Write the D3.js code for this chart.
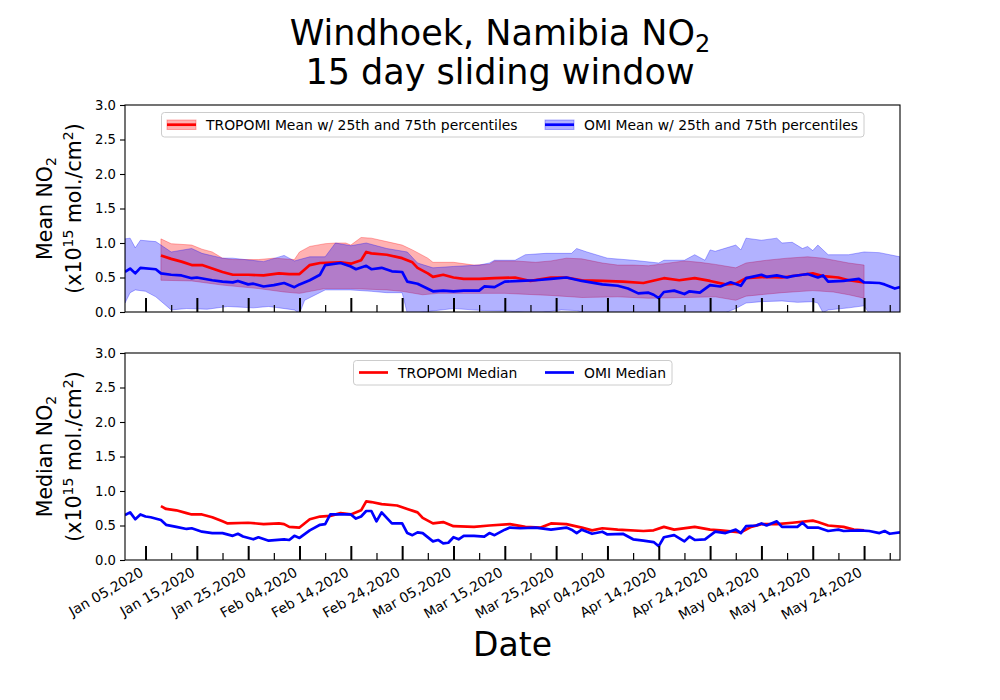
<!DOCTYPE html>
<html><head><meta charset="utf-8">
<script src="https://cdn.jsdelivr.net/npm/d3@7"></script>
<style>body{margin:0;background:#fff} svg text{font-family:"DejaVu Sans",sans-serif;fill:#000}</style>
</head><body><svg id="chart" width="1000" height="700"></svg>
<script>
// ---------- data (day offsets from 2020-01-01, values in 1e15 mol/cm2) ----------
const tropMeanDays = [7,9,11,13,15,17,19,21,24,27,30,32,34,36,38,42,44,46,47,48,51,54,56,57,59,60,62,64,66,69,72,76,79,83,86,89,93,97,101,105,108,111,114,117,119,121,125,128,132,134,136,139,141,144];
const tropMeanVals = [0.82,0.77,0.73,0.68,0.68,0.63,0.58,0.54,0.54,0.53,0.56,0.55,0.55,0.68,0.71,0.72,0.70,0.75,0.87,0.85,0.83,0.78,0.72,0.64,0.56,0.51,0.54,0.50,0.48,0.48,0.49,0.50,0.45,0.50,0.50,0.46,0.45,0.44,0.42,0.49,0.46,0.49,0.45,0.40,0.41,0.49,0.51,0.50,0.54,0.56,0.52,0.50,0.46,0.43];

const tropP75Days = [7,9,13,15,17,19,21,26,29,33,34,36,39,41,43,44,46,48,51,54,56,59,60,64,68,71,72,76,80,83,86,89,93,96,99,102,104,109,112,115,119,121,125,129,133,136,141,144];
const tropP75Vals = [1.06,0.99,0.97,0.91,0.87,0.78,0.76,0.76,0.78,0.76,0.87,0.95,0.99,1.00,1.00,0.97,1.08,1.07,1.02,0.97,0.90,0.78,0.72,0.72,0.68,0.69,0.74,0.74,0.72,0.74,0.78,0.77,0.71,0.68,0.68,0.67,0.69,0.74,0.72,0.69,0.64,0.71,0.75,0.78,0.80,0.78,0.71,0.68];

const tropP25Days = [7,13,19,26,31,34,39,44,51,54,58,61,67,74,83,89,96,102,109,115,119,121,128,134,138,141,144];
const tropP25Vals = [0.46,0.45,0.39,0.34,0.29,0.27,0.34,0.34,0.32,0.30,0.25,0.27,0.27,0.27,0.24,0.21,0.22,0.20,0.21,0.22,0.17,0.23,0.28,0.31,0.29,0.25,0.20];

const omiMeanDays = [0,1,2,3,6,7,9,11,13,14,17,19,21,22,24,25,27,29,31,33,34,36,38,39,42,44,45,47,48,50,52,54,55,57,60,62,64,66,69,70,72,74,77,80,83,86,89,93,96,98,100,102,103,104,105,107,109,110,112,114,116,118,120,121,124,125,127,129,130,132,133,135,136,137,140,143,144,147,148,150,151];
const omiMeanVals = [0.58,0.63,0.56,0.64,0.62,0.56,0.54,0.53,0.49,0.50,0.46,0.44,0.43,0.45,0.40,0.41,0.37,0.39,0.42,0.36,0.40,0.46,0.54,0.68,0.71,0.66,0.62,0.67,0.62,0.64,0.59,0.58,0.44,0.41,0.30,0.31,0.30,0.31,0.31,0.37,0.36,0.44,0.45,0.46,0.48,0.50,0.45,0.40,0.38,0.34,0.27,0.28,0.25,0.20,0.29,0.31,0.26,0.30,0.28,0.39,0.37,0.43,0.38,0.49,0.54,0.51,0.53,0.50,0.52,0.54,0.55,0.50,0.53,0.44,0.45,0.48,0.43,0.42,0.40,0.34,0.36];

const omiP75Days = [0,1,2,3,6,7,9,13,15,19,21,27,31,33,36,39,41,44,47,51,55,57,60,64,69,71,72,76,78,82,87,88,90,94,99,104,105,109,111,113,114,115,119,120,121,124,127,128,130,132,133,134,135,137,141,144,147,151];
const omiP75Vals = [1.06,1.07,0.93,1.04,1.02,0.97,0.87,0.92,0.85,0.78,0.78,0.73,0.82,0.74,0.80,0.80,1.00,0.96,1.00,0.92,0.87,0.71,0.64,0.66,0.68,0.71,0.75,0.75,0.83,0.85,0.85,0.92,0.87,0.78,0.75,0.71,0.75,0.75,0.83,0.75,0.90,0.88,0.97,0.90,1.07,1.04,1.07,1.00,1.01,0.92,0.95,0.89,0.97,0.83,0.83,0.87,0.86,0.80];

const omiP25Days = [0,1,2,4,6,9,12,16,20,25,28,33,34,35,39,44,48,51,54,55,57,64,70,75,80,85,88,90,100,110,117,119,121,124,128,131,134,135,136,137,141,144,145,151];
const omiP25Vals = [0.13,0.28,0.32,0.30,0.22,0.03,0.05,0.04,0.08,0.06,0.08,0.03,-0.02,0.17,0.32,0.32,0.30,0.28,0.28,-0.02,-0.01,0.05,0.02,0.01,-0.02,0.03,0.02,-0.02,-0.03,-0.02,-0.01,0.05,0.13,0.15,0.16,0.14,0.15,0.13,-0.01,0.03,0.06,0.09,-0.02,-0.02];

const tropMedDays = [7,8,10,12,13,15,17,19,20,24,27,30,31,32,34,36,38,40,42,44,46,47,48,50,53,55,57,58,60,62,64,68,71,75,78,81,83,86,89,91,93,96,101,103,105,107,111,114,116,120,122,124,127,130,134,135,137,140,142,144];
const tropMedVals = [0.78,0.74,0.72,0.68,0.66,0.66,0.62,0.56,0.53,0.54,0.52,0.53,0.52,0.48,0.47,0.59,0.63,0.64,0.68,0.66,0.72,0.85,0.84,0.81,0.79,0.74,0.69,0.61,0.53,0.55,0.49,0.48,0.50,0.52,0.48,0.47,0.53,0.52,0.47,0.43,0.46,0.44,0.42,0.43,0.48,0.44,0.48,0.44,0.43,0.40,0.48,0.52,0.52,0.54,0.57,0.55,0.50,0.48,0.44,0.43];

const omiMedDays = [0,1,2,3,4,5,7,8,10,12,13,15,17,19,21,22,23,25,26,28,31,32,33,34,36,38,39,40,44,45,46,47,48,49,50,52,54,55,56,57,58,60,61,62,63,64,65,66,68,70,71,72,74,75,77,80,83,86,87,88,89,91,93,94,97,99,101,103,104,105,107,109,110,111,113,115,117,119,120,121,123,124,125,127,128,131,132,133,135,137,139,140,143,145,147,148,149,151];
const omiMedVals = [0.65,0.69,0.59,0.66,0.63,0.62,0.58,0.51,0.48,0.45,0.46,0.41,0.39,0.39,0.35,0.38,0.34,0.30,0.33,0.28,0.30,0.29,0.35,0.32,0.43,0.51,0.52,0.66,0.66,0.60,0.63,0.71,0.71,0.56,0.69,0.53,0.53,0.39,0.36,0.40,0.39,0.27,0.29,0.24,0.25,0.33,0.30,0.35,0.35,0.34,0.39,0.36,0.44,0.47,0.46,0.47,0.44,0.47,0.44,0.39,0.44,0.38,0.41,0.37,0.38,0.30,0.28,0.26,0.20,0.33,0.36,0.27,0.34,0.29,0.30,0.41,0.39,0.44,0.39,0.49,0.50,0.53,0.50,0.56,0.48,0.48,0.54,0.47,0.47,0.42,0.44,0.42,0.43,0.42,0.39,0.42,0.38,0.40];

const majorTickDates = ["2020-01-05","2020-01-15","2020-01-25","2020-02-04","2020-02-14","2020-02-24","2020-03-05","2020-03-15","2020-03-25","2020-04-04","2020-04-14","2020-04-24","2020-05-04","2020-05-14","2020-05-24"];
const tickLabels = ["Jan 05,2020","Jan 15,2020","Jan 25,2020","Feb 04,2020","Feb 14,2020","Feb 24,2020","Mar 05,2020","Mar 15,2020","Mar 25,2020","Apr 04,2020","Apr 14,2020","Apr 24,2020","May 04,2020","May 14,2020","May 24,2020"];
const minorTickDates = ["2020-01-10","2020-01-20","2020-01-30","2020-02-09","2020-02-19","2020-02-29","2020-03-10","2020-03-20","2020-03-30","2020-04-09","2020-04-19","2020-04-29","2020-05-09","2020-05-19","2020-05-29"];
const yTicks = [0, 0.5, 1.0, 1.5, 2.0, 2.5, 3.0];

// ---------- layout ----------
const svg = d3.select("#chart");
const parse = d3.timeParse("%Y-%m-%d");
const t0 = parse("2020-01-01");
const L = 125, R = 900;
const panels = [{top:105, bottom:312}, {top:353, bottom:560}];
const x = d3.scaleTime().domain([t0, parse("2020-05-31")]).range([L, R]);
const ys = panels.map(p => d3.scaleLinear().domain([0, 3]).range([p.bottom, p.top]));
const toPts = (days, vals) => days.map((d, i) => [d3.timeDay.offset(t0, d), vals[i]]);
const RED = "#ff0000", BLUE = "#0000ff";

panels.forEach((p, i) => {
  svg.append("clipPath").attr("id", "clip" + i)
    .append("rect").attr("x", L).attr("y", p.top).attr("width", R - L).attr("height", p.bottom - p.top);
});

function band(g, y, upD, upV, loD, loV, color) {
  const up = toPts(upD, upV), lo = toPts(loD, loV).reverse();
  const line = d3.line().x(d => x(d[0])).y(d => y(d[1]));
  g.append("path").attr("d", line(up.concat(lo)) + "Z")
    .attr("fill", color).attr("fill-opacity", 0.3)
    .attr("stroke", color).attr("stroke-opacity", 0.3).attr("stroke-width", 1);
}
function series(g, y, days, vals, color) {
  const line = d3.line().x(d => x(d[0])).y(d => y(d[1]));
  g.append("path").attr("d", line(toPts(days, vals)))
    .attr("fill", "none").attr("stroke", color).attr("stroke-width", 2.7)
    .attr("stroke-linejoin", "round");
}

// top panel
const g0 = svg.append("g").attr("clip-path", "url(#clip0)");
band(g0, ys[0], tropP75Days, tropP75Vals, tropP25Days, tropP25Vals, RED);
band(g0, ys[0], omiP75Days, omiP75Vals, omiP25Days, omiP25Vals, BLUE);
series(g0, ys[0], tropMeanDays, tropMeanVals, RED);
series(g0, ys[0], omiMeanDays, omiMeanVals, BLUE);
// bottom panel
const g1 = svg.append("g").attr("clip-path", "url(#clip1)");
series(g1, ys[1], tropMedDays, tropMedVals, RED);
series(g1, ys[1], omiMedDays, omiMedVals, BLUE);

// axes
panels.forEach((p, i) => {
  const y = ys[i];
  const major = d3.axisBottom(x).tickValues(majorTickDates.map(parse)).tickSize(-14).tickFormat("");
  const gx = svg.append("g").attr("transform", `translate(0,${p.bottom})`).call(major);
  gx.selectAll(".tick line").attr("stroke-width", 2);
  gx.select(".domain").remove();
  const minor = d3.axisBottom(x).tickValues(minorTickDates.map(parse)).tickSize(-7).tickFormat("");
  const gm = svg.append("g").attr("transform", `translate(0,${p.bottom})`).call(minor);
  gm.selectAll(".tick line").attr("stroke-width", 1.2);
  gm.select(".domain").remove();
  const gy = svg.append("g").attr("transform", `translate(${L},0)`)
    .call(d3.axisLeft(y).tickValues(yTicks).tickSize(5).tickPadding(4).tickFormat(d3.format(".1f")));
  gy.select(".domain").remove();
  gy.selectAll(".tick line").attr("stroke-width", 1.1);
  gy.selectAll(".tick text").attr("font-size", 13.2).attr("font-family", "DejaVu Sans");
  svg.append("rect").attr("x", L).attr("y", p.top).attr("width", R - L).attr("height", p.bottom - p.top)
    .attr("fill", "none").attr("stroke", "#000").attr("stroke-width", 1.1);
});

// rotated x tick labels (bottom)
svg.append("g").selectAll("text").data(majorTickDates).join("text")
  .attr("transform", d => `translate(${x(parse(d)) - 1},${panels[1].bottom + 15}) rotate(-30)`)
  .attr("text-anchor", "end").attr("font-size", 13.9)
  .text((d, i) => tickLabels[i]);

// y labels
function yLabel(cy, word) {
  const t1 = svg.append("text").attr("transform", `translate(52,${cy}) rotate(-90)`)
    .attr("text-anchor", "middle").attr("font-size", 20.5);
  t1.append("tspan").text(word + " NO");
  t1.append("tspan").attr("font-size", 14).attr("dy", 4).text("2");
  const t2 = svg.append("text").attr("transform", `translate(81,${cy}) rotate(-90)`)
    .attr("text-anchor", "middle").attr("font-size", 20.5);
  t2.append("tspan").text("(x10");
  t2.append("tspan").attr("font-size", 14).attr("dy", -8).text("15");
  t2.append("tspan").attr("dy", 8).text(" mol./cm");
  t2.append("tspan").attr("font-size", 14).attr("dy", -8).text("2");
  t2.append("tspan").attr("dy", 8).text(")");
}
yLabel((panels[0].top + panels[0].bottom) / 2, "Mean");
yLabel((panels[1].top + panels[1].bottom) / 2, "Median");

// title
const tt = svg.append("text").attr("x", 500).attr("y", 45).attr("text-anchor", "middle").attr("font-size", 35);
tt.append("tspan").text("Windhoek, Namibia NO");
tt.append("tspan").attr("font-size", 24).attr("dy", 7).text("2");
svg.append("text").attr("x", 500).attr("y", 84).attr("text-anchor", "middle").attr("font-size", 35)
  .text("15 day sliding window");

// x label
svg.append("text").attr("x", (L + R) / 2).attr("y", 656).attr("text-anchor", "middle").attr("font-size", 33).text("Date");

// legends
function legendBox(x0, y0, w, h) {
  svg.append("rect").attr("x", x0).attr("y", y0).attr("width", w).attr("height", h).attr("rx", 3)
    .attr("fill", "#fff").attr("fill-opacity", 0.8).attr("stroke", "#cccccc").attr("stroke-width", 1);
}
legendBox(161.5, 112.5, 702.5, 24.5);
const legTop = [{label:"TROPOMI Mean w/ 25th and 75th percentiles", color:RED, x:167},
                {label:"OMI Mean w/ 25th and 75th percentiles", color:BLUE, x:545}];
legTop.forEach(d => {
  svg.append("rect").attr("x", d.x).attr("y", 120).attr("width", 29).attr("height", 9.5)
    .attr("fill", d.color).attr("fill-opacity", 0.3).attr("stroke", d.color).attr("stroke-opacity", 0.3);
  svg.append("line").attr("x1", d.x).attr("x2", d.x + 29).attr("y1", 124.7).attr("y2", 124.7)
    .attr("stroke", d.color).attr("stroke-width", 2.7);
  svg.append("text").attr("x", d.x + 39).attr("y", 129.5).attr("font-size", 13.9).text(d.label);
});
legendBox(353.5, 360.5, 318.5, 24.5);
const legBot = [{label:"TROPOMI Median", color:RED, x:359}, {label:"OMI Median", color:BLUE, x:545}];
legBot.forEach(d => {
  svg.append("line").attr("x1", d.x).attr("x2", d.x + 29).attr("y1", 372.5).attr("y2", 372.5)
    .attr("stroke", d.color).attr("stroke-width", 2.7);
  svg.append("text").attr("x", d.x + 39).attr("y", 377.5).attr("font-size", 13.9).text(d.label);
});
</script></body></html>
